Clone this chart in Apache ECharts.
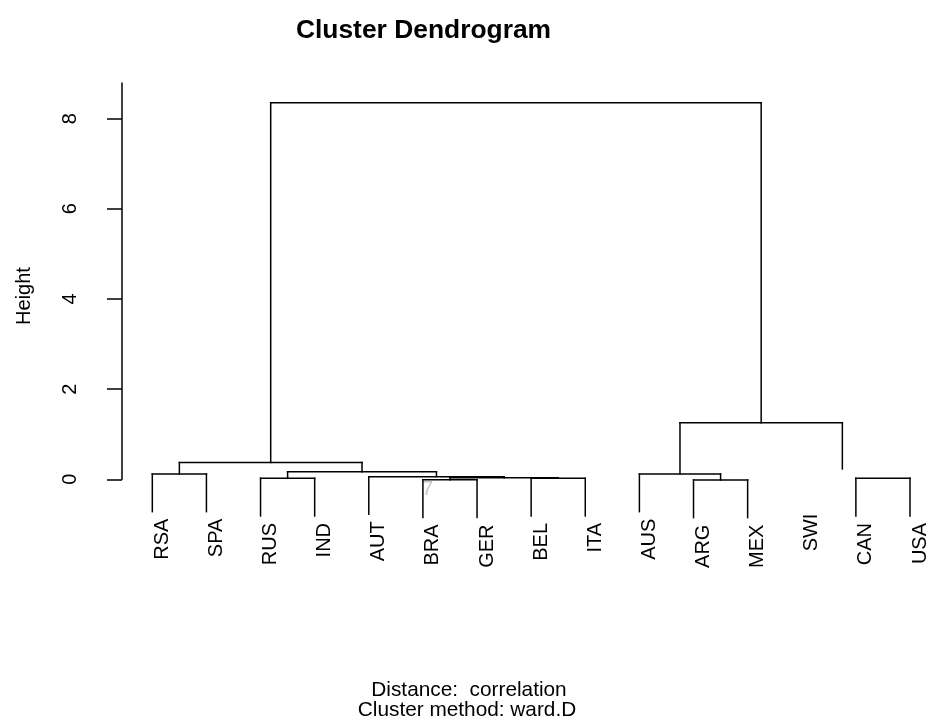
<!DOCTYPE html>
<html><head><meta charset="utf-8">
<script src="https://cdn.jsdelivr.net/npm/echarts@6/dist/echarts.min.js"></script>
<style>html,body{margin:0;padding:0;background:#fff}#c{width:928px;height:724px}</style>
</head><body><div id="c"></div>
<script>
// Leaves in display order
const leafLabels = ['RSA','SPA','RUS','IND','AUT','BRA','GER','BEL','ITA','AUS','ARG','MEX','SWI','CAN','USA'];
// Merge table (R hclust style): negative = leaf number (1-based), positive = earlier merge row (1-based)
const mergeLeft   = [-1, -3, -6, -8, 3, -5, 2, 1, -11, -10, -14, -13, 10, 8];
const mergeRight  = [-2, -4, -7, -9, 4, 5, 6, 7, -12, 9, -15, 11, 12, 13];
const mergeHeight = [0.117, 0.022, -0.012, 0.022, 0.035, 0.058, 0.168, 0.37, -0.015, 0.117, 0.022, 0.23, 1.255, 8.35];
// whether the merge's own bracket appears in the picture
const mergeDrawn  = [1,1,1,1,1,1,1,1,1,1,1,0,1,1];
const hang = 0.835;
const yTicks = [0, 2, 4, 6, 8];
const titleText = 'Cluster Dendrogram';
const yName = 'Height';
const subLines = ['Distance:  correlation', 'Cluster method: ward.D'];

// build geometry in data space
const mergeX = [];
function nodeX(id){ return id < 0 ? -id : mergeX[id-1]; }
mergeLeft.forEach((l,i)=>{ mergeX[i] = (nodeX(l) + nodeX(mergeRight[i]))/2; });
const segs = [];
const leafEnds = [];
mergeLeft.forEach((l,i)=>{
  const h = mergeHeight[i];
  const kids = [l, mergeRight[i]];
  const drawn = mergeDrawn[i];
  if (drawn) segs.push([nodeX(l), h, nodeX(mergeRight[i]), h]);
  kids.forEach(k=>{
    const x = nodeX(k);
    const bottom = k < 0 ? h - hang : mergeHeight[k-1];
    if (k < 0) leafEnds.push([x, h - hang, -k-1]);
    if (drawn) segs.push([x, h, x, bottom]);
  });
});

const chart = echarts.init(document.getElementById('c'), null, {renderer:'canvas'});
const FONT = '"Liberation Sans", Arial, sans-serif';
const LW = 1.5;
chart.setOption({
  animation: false,
  backgroundColor: '#fff',
  grid: {left: 122, right: 18, top: 83, bottom: 244.7, containLabel: false, outerBoundsMode: 'none'},
  xAxis: {type: 'value', min: 0.44, max: 15, show: false},
  yAxis: {
    type: 'value', min: 0, max: 8.79, interval: 2,
    axisLine: {show: true, onZero: false, lineStyle: {color: '#000', width: LW}},
    axisTick: {show: true, length: 15, customValues: yTicks, lineStyle: {color: '#000', width: LW}},
    axisLabel: {customValues: yTicks, rotate: 90, margin: 42, color: '#000', fontSize: 20, fontFamily: FONT},
    splitLine: {show: false}
  },
  graphic: [
    {type:'text', x: 423.5, y: 30.5, style:{text: titleText, font: 'bold 26.4px ' + FONT, fill:'#000', textAlign:'center', textVerticalAlign:'middle'}},
    {type:'text', x: 24, y: 296, rotation: Math.PI/2, style:{text: yName, font: '20px ' + FONT, fill:'#000', textAlign:'center', textVerticalAlign:'middle'}},
    {type:'text', x: 469, y: 690.7, style:{text: subLines[0], font: '20.8px ' + FONT, fill:'#000', textAlign:'center', textVerticalAlign:'middle'}},
    {type:'text', x: 467, y: 710, style:{text: subLines[1], font: '20.8px ' + FONT, fill:'#000', textAlign:'center', textVerticalAlign:'middle'}},
    {type:'text', x: 427.5, y: 489, z: -1, style:{text: '7', font: '20px ' + FONT, fill:'#c8c8c8', textAlign:'center', textVerticalAlign:'middle'}}
  ],
  series: [
    {
      type: 'custom', clip: false, silent: true,
      data: segs,
      encode: {x: [0, 2], y: [1, 3]},
      renderItem: function(params, api){
        const p1 = api.coord([api.value(0), api.value(1)]);
        const p2 = api.coord([api.value(2), api.value(3)]);
        return {type:'line', shape:{x1:p1[0], y1:p1[1], x2:p2[0], y2:p2[1]}, style:{stroke:'#000', lineWidth:LW, lineCap:'square'}};
      }
    },
    {
      type: 'custom', clip: false, silent: true,
      data: leafEnds,
      encode: {x: 0, y: 1},
      renderItem: function(params, api){
        const p = api.coord([api.value(0), api.value(1)]);
        return {type:'text', x: p[0] + 10, y: p[1] + 7, rotation: Math.PI/2,
          style:{text: leafLabels[api.value(2)], font: '20px ' + FONT, fill:'#000', textAlign:'right', textVerticalAlign:'middle'}};
      }
    }
  ]
});
</script></body></html>
